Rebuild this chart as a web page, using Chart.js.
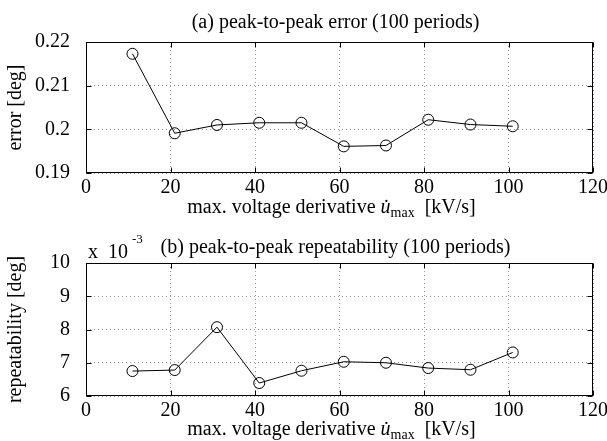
<!DOCTYPE html>
<html lang="en">
<head>
  <meta charset="UTF-8" />
  <title>Peak-to-peak error and repeatability</title>
  <script src="https://cdn.jsdelivr.net/npm/chart.js"></script>
  <style>
    html, body { margin: 0; padding: 0; background: #fff; }
    canvas { position: absolute; left: 0; }
    #chartError { top: 0; }
    #chartRepeat { top: 220px; }
  </style>
</head>
<body>
  <canvas id="chartError" width="607" height="220"></canvas>
  <canvas id="chartRepeat" width="607" height="221"></canvas>

  <script>
    // max. voltage derivative [kV/s]
    const kvs = [11, 21, 31, 41, 51, 61, 71, 81, 91, 101];
    // (a) peak-to-peak error [deg]
    const errorDeg = [0.2173, 0.1991, 0.2010, 0.2015, 0.2015, 0.1961, 0.1963, 0.2022, 0.2011, 0.2007];
    // (b) peak-to-peak repeatability [deg]
    const repeatDeg = [0.00675, 0.00678, 0.00807, 0.00639, 0.00676, 0.00703, 0.00700, 0.00684, 0.00679, 0.00731];

    const FONT = "'Liberation Serif', 'Times New Roman', serif";
    Chart.defaults.font.family = FONT;
    Chart.defaults.font.size = 20;
    Chart.defaults.color = '#000';

    // draws the box, inward ticks and all the titles (matlab look)
    const matlabFrame = {
      id: 'matlabFrame',
      afterDraw(chart, args, o) {
        const { ctx, chartArea: a, scales: { x, y } } = chart;
        const L = Math.round(a.left) + 0.5, R = Math.round(a.right) - 0.5;
        const T = Math.round(a.top) + 0.5, B = Math.round(a.bottom) - 0.5;
        ctx.save();
        ctx.strokeStyle = '#000';
        ctx.lineWidth = 1;
        ctx.setLineDash([]);
        ctx.strokeRect(L, T, R - L, B - T);
        ctx.beginPath();
        x.ticks.forEach(t => {
          const px = Math.round(x.getPixelForValue(t.value)) + 0.5;
          ctx.moveTo(px, B); ctx.lineTo(px, B - 5);
          ctx.moveTo(px, T); ctx.lineTo(px, T + 5);
        });
        y.ticks.forEach(t => {
          const py = Math.round(y.getPixelForValue(t.value)) + 0.5;
          ctx.moveTo(L, py); ctx.lineTo(L + 5, py);
          ctx.moveTo(R, py); ctx.lineTo(R - 5, py);
        });
        ctx.stroke();

        ctx.fillStyle = '#000';
        ctx.textBaseline = 'alphabetic';
        const cx = (a.left + a.right) / 2;

        // plot title
        ctx.font = '20px ' + FONT;
        ctx.textAlign = 'center';
        ctx.fillText(o.title, cx - 4, o.titleY);

        // x axis title with u-dot subscript max
        const parts = [
          { t: 'max. voltage derivative ', f: '20px ' + FONT, dy: 0 },
          { t: 'u\u0307', f: 'italic 20px ' + FONT, dy: 0 },
          { t: 'max', f: '14px ' + FONT, dy: 4 },
          { t: '  [kV/s]', f: '20px ' + FONT, dy: 0 }
        ];
        let w = 0;
        parts.forEach(p => { ctx.font = p.f; w += ctx.measureText(p.t).width; });
        let px = cx - 8 - w / 2;
        ctx.textAlign = 'left';
        parts.forEach(p => {
          ctx.font = p.f;
          ctx.fillText(p.t, px, o.xTitleY + p.dy);
          px += ctx.measureText(p.t).width;
        });

        // y axis title
        ctx.save();
        ctx.translate(21, (a.top + a.bottom) / 2);
        ctx.rotate(-Math.PI / 2);
        ctx.font = '20px ' + FONT;
        ctx.textAlign = 'center';
        ctx.fillText(o.yTitle, 0, 0);
        ctx.restore();

        // exponent note
        if (o.exponent) {
          ctx.font = '20px ' + FONT;
          ctx.textAlign = 'left';
          ctx.fillText('x  10', a.left + 2, a.top - 5);
          ctx.font = '13px ' + FONT;
          ctx.fillText('-3', a.left + 46, a.top - 20);
        }
        ctx.restore();
      }
    };

    function makeChart(id, values, yOpts, frameOpts, padTop, xHeight) {
      return new Chart(document.getElementById(id), {
        type: 'line',
        data: {
          datasets: [{
            data: kvs.map((k, i) => ({ x: k, y: values[i] })),
            borderColor: '#000',
            borderWidth: 1,
            pointStyle: 'circle',
            pointRadius: 5.5,
            pointBorderWidth: 1,
            pointBorderColor: '#000',
            pointBackgroundColor: 'rgba(0,0,0,0)',
            tension: 0
          }]
        },
        options: {
          responsive: false,
          animation: false,
          layout: { padding: { left: 0, right: 14, top: padTop, bottom: 0 } },
          plugins: {
            legend: { display: false },
            tooltip: { enabled: false },
            matlabFrame: frameOpts
          },
          scales: {
            x: {
              type: 'linear',
              min: 0, max: 120,
              ticks: { stepSize: 20, padding: 3, maxRotation: 0 },
              grid: { color: '#9a9a9a', drawTicks: false },
              border: { display: false, dash: [1, 3] },
              afterFit(s) { s.height = xHeight; s.paddingLeft = 0; s.paddingRight = 0; }
            },
            y: Object.assign({
              type: 'linear',
              grid: { color: '#9a9a9a', drawTicks: false },
              border: { display: false, dash: [1, 3] },
              afterFit(s) { s.width = 86; s.paddingTop = 0; s.paddingBottom = 0; }
            }, yOpts)
          }
        },
        plugins: [matlabFrame]
      });
    }

    makeChart('chartError', errorDeg, {
      min: 0.19, max: 0.22,
      ticks: { stepSize: 0.01, padding: 16, callback: v => String(+v.toFixed(2)) }
    }, {
      title: '(a) peak-to-peak error (100 periods)',
      titleY: 28, xTitleY: 213, yTitle: 'error [deg]', exponent: false
    }, 42, 47);

    makeChart('chartRepeat', repeatDeg, {
      min: 0.006, max: 0.010,
      ticks: { stepSize: 0.001, padding: 16, callback: v => String(Math.round(v * 1000)) }
    }, {
      title: '(b) peak-to-peak repeatability (100 periods)',
      titleY: 33, xTitleY: 215, yTitle: 'repeatability [deg]', exponent: true
    }, 43, 45);
  </script>
</body>
</html>
